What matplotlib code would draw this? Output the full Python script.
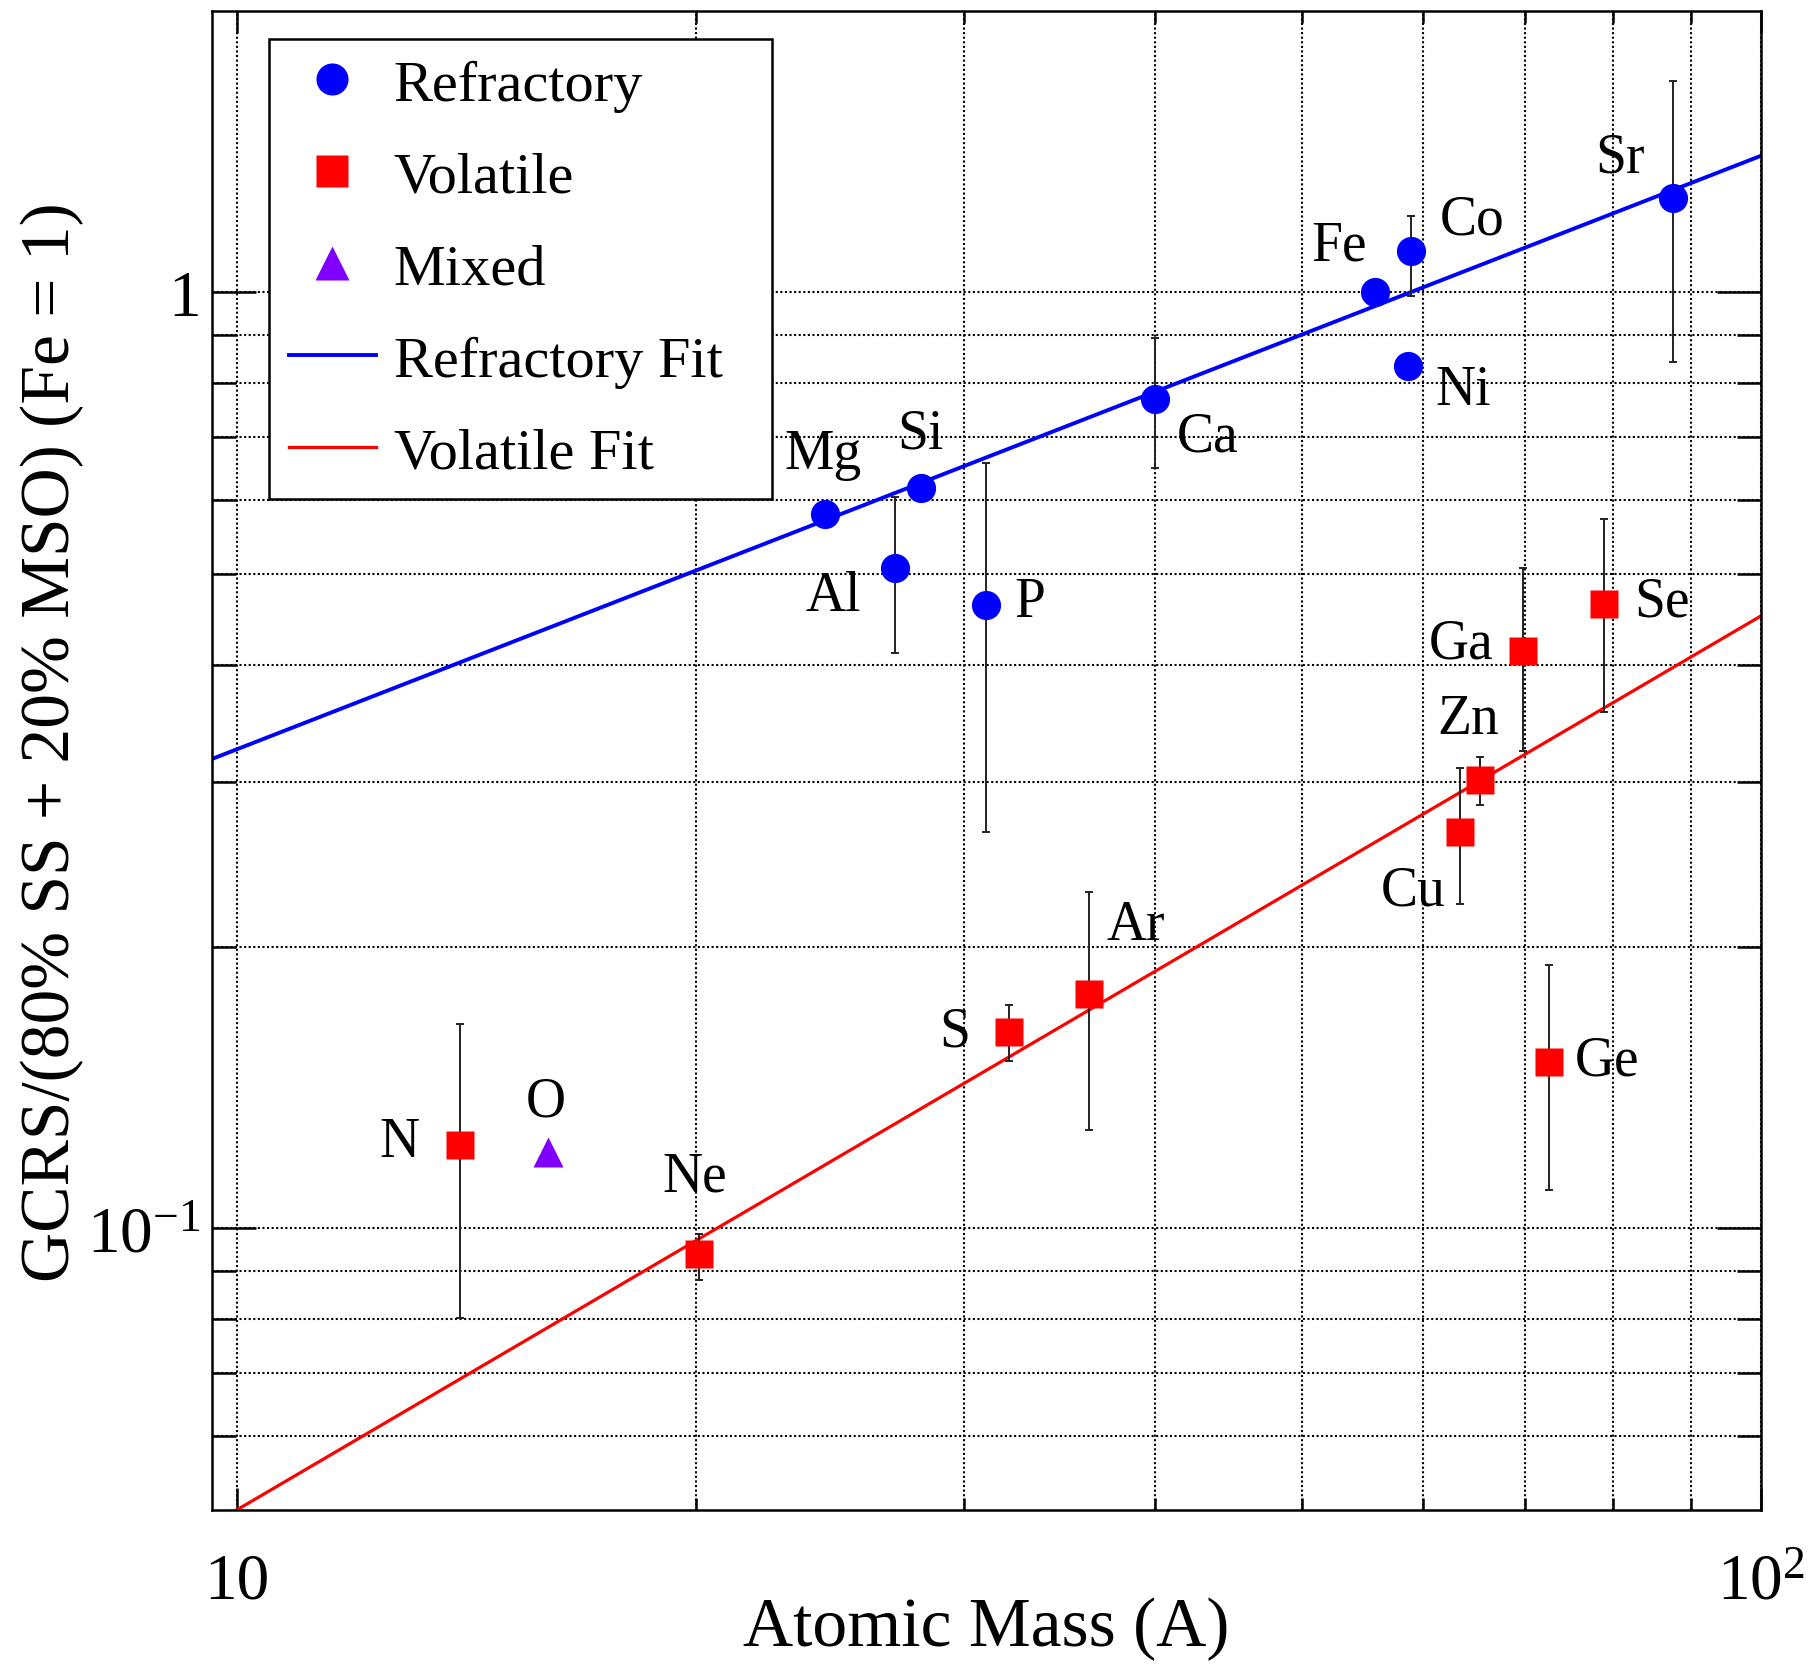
import numpy as np
import matplotlib.pyplot as plt
from matplotlib.ticker import FixedLocator, NullFormatter

plt.rcParams['font.family'] = ['Liberation Serif', 'DejaVu Serif']
plt.rcParams['mathtext.fontset'] = 'custom'
plt.rcParams['mathtext.rm'] = 'Liberation Serif'
plt.rcParams['mathtext.it'] = 'Liberation Serif:italic'

# refractory elements (ratio, with lower / upper error bounds)
ref_names = ['Mg', 'Al', 'Si', 'P', 'Ca', 'Fe', 'Co', 'Ni', 'Sr']
ref_mass = [24.3, 27.0, 28.1, 31.0, 40.0, 55.8, 58.9, 58.7, 87.6]
ref_val = [0.579, 0.508, 0.618, 0.463, 0.770, 1.000, 1.108, 0.834, 1.262]
ref_lo = [0.579, 0.412, 0.618, 0.265, 0.649, 1.000, 0.991, 0.834, 0.843]
ref_hi = [0.579, 0.605, 0.618, 0.658, 0.893, 1.000, 1.206, 0.834, 1.682]

# volatile elements
vol_names = ['N', 'Ne', 'S', 'Ar', 'Cu', 'Zn', 'Ga', 'Ge', 'Se']
vol_mass = [14.0, 20.1, 32.1, 36.2, 63.5, 65.4, 69.8, 72.6, 78.9]
vol_val = [0.1227, 0.0939, 0.162, 0.178, 0.265, 0.301, 0.414, 0.1506, 0.464]
vol_lo = [0.0801, 0.0880, 0.151, 0.1273, 0.222, 0.283, 0.3235, 0.110, 0.356]
vol_hi = [0.1654, 0.0985, 0.173, 0.2287, 0.310, 0.319, 0.507, 0.191, 0.573]

# mixed
mix_names = ['O']
mix_mass = [16.0]
mix_val = [0.1206]

# power-law fits  y = norm * A**slope
ref_fit = (0.0755, 0.634)
vol_fit = (0.00555, 0.955)

x_ticks = [10, 100]
x_tick_labels = ['10', r'$10^{2}$']
x_minor = [20, 30, 40, 50, 60, 70, 80, 90]
y_ticks = [0.1, 1]
y_tick_labels = [r'$10^{-1}$', '1']
y_minor = [0.06, 0.07, 0.08, 0.09, 0.2, 0.3, 0.4, 0.5, 0.6, 0.7, 0.8, 0.9]

# label offsets in pixels (dx, dy)
label_off = {
    'Mg': (-2, 60), 'Al': (-61, -28), 'Si': (0, 54), 'P': (44, 3),
    'Ca': (53, -38), 'Fe': (-36, 47), 'Co': (61, 31), 'Ni': (55, -24),
    'Sr': (-53, 40), 'N': (-60, 3), 'O': (-2, 51), 'Ne': (-5, 77),
    'S': (-54, 1), 'Ar': (47, 69), 'Cu': (-47, -58), 'Zn': (-12, 61),
    'Ga': (-62, 7), 'Se': (58, 3), 'Ge': (58, 1),
}

xlim = (9.62, 100)
ylim = (0.05, 2)

fig = plt.figure(figsize=(18.13, 16.65), dpi=100)
ax = fig.add_axes([0.1167, 0.0925, 0.8546, 0.9005])
ax.set_xscale('log')
ax.set_yscale('log')
ax.set_xlim(*xlim)
ax.set_ylim(*ylim)

blue = '#0000ff'
red = '#ff0000'
purple = '#8000ff'


def yerr(val, lo, hi):
    v = np.array(val)
    return [v - np.array(lo), np.array(hi) - v]


ax.errorbar(ref_mass, ref_val, yerr=yerr(ref_val, ref_lo, ref_hi), fmt='none',
            ecolor='#222222', elinewidth=1.4, capsize=3, capthick=1.4, zorder=3)
ax.errorbar(vol_mass, vol_val, yerr=yerr(vol_val, vol_lo, vol_hi), fmt='none',
            ecolor='#222222', elinewidth=1.4, capsize=3, capthick=1.4, zorder=3)

fx = np.array(xlim)
l_rf, = ax.plot(fx, ref_fit[0] * fx ** ref_fit[1], color=blue, lw=2.8, zorder=2,
                label='Refractory Fit')
l_vf, = ax.plot(fx, vol_fit[0] * fx ** vol_fit[1], color=red, lw=2.3, zorder=2,
                label='Volatile Fit')

p_r, = ax.plot(ref_mass, ref_val, 'o', color=blue, ms=21, mec='none', zorder=4,
               label='Refractory')
p_v, = ax.plot(vol_mass, vol_val, 's', color=red, ms=20.5, mec='none', zorder=4,
               label='Volatile')
p_m, = ax.plot(mix_mass, mix_val, '^', color=purple, ms=22, mec='none', zorder=4,
               label='Mixed')

for names, mass, val in [(ref_names, ref_mass, ref_val),
                         (vol_names, vol_mass, vol_val),
                         (mix_names, mix_mass, mix_val)]:
    for n, m, v in zip(names, mass, val):
        ax.annotate(n, (m, v), xytext=label_off[n], textcoords='offset pixels',
                    ha='center', va='center', fontsize=40)

ax.xaxis.set_major_locator(FixedLocator(x_ticks))
ax.set_xticklabels(x_tick_labels)
ax.xaxis.set_minor_locator(FixedLocator(x_minor))
ax.xaxis.set_minor_formatter(NullFormatter())
ax.yaxis.set_major_locator(FixedLocator(y_ticks))
ax.set_yticklabels(y_tick_labels)
ax.yaxis.set_minor_locator(FixedLocator(y_minor))
ax.yaxis.set_minor_formatter(NullFormatter())

ax.tick_params(which='both', direction='in', top=True, right=True, width=1.8,
               labelsize=47)
ax.tick_params(axis='x', which='major', length=16, pad=30)
ax.tick_params(axis='x', which='minor', length=8.5)
ax.tick_params(axis='y', which='major', length=32, pad=8)
ax.tick_params(axis='y', which='minor', length=17)

ax.grid(True, which='both', color='k', lw=1.5, ls=(0, (1, 1.2)))
ax.set_axisbelow(True)
for s in ax.spines.values():
    s.set_linewidth(1.8)

ax.set_xlabel('Atomic Mass (A)', fontsize=50, va='center')
ax.xaxis.set_label_coords(0.5, -0.079)
ax.set_ylabel('GCRS/(80% SS + 20% MSO) (Fe = 1)', fontsize=50, va='center')
ax.yaxis.set_label_coords(-0.103, 0.513)

leg = ax.legend([p_r, p_v, p_m, l_rf, l_vf],
                ['Refractory', 'Volatile', 'Mixed', 'Refractory Fit', 'Volatile Fit'],
                loc='upper left', bbox_to_anchor=(0.037, 0.981, 0.325, 0),
                mode='expand', fontsize=42, frameon=True, fancybox=False,
                edgecolor='k', framealpha=1, borderpad=0.34, labelspacing=0.67,
                handlelength=1.5, handletextpad=0.3, borderaxespad=0,
                markerscale=1.1)
leg.get_frame().set_linewidth(1.8)

fig.savefig('out.png', dpi=100)
